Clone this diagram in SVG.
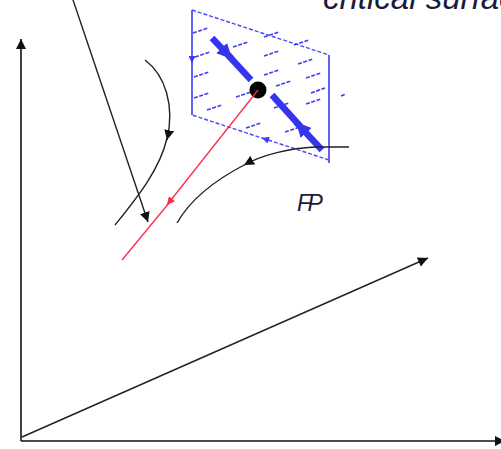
<svg xmlns="http://www.w3.org/2000/svg" width="501" height="449" viewBox="0 0 501 449">
<style>
.ax{fill:none;stroke:#111;stroke-width:1.6}
.th{fill:none;stroke:#222;stroke-width:1.4}
.red{fill:none;stroke:#ff2a4a;stroke-width:1.3}
.be{fill:none;stroke:#3b3bf5;stroke-width:1.6}
.bd{fill:none;stroke:#4a4af5;stroke-width:1.4;stroke-dasharray:4 2}
.hd{fill:none;stroke:#3f3ff2;stroke-width:1.7;stroke-dasharray:4 1.5}
.thick{fill:none;stroke:#3535ee;stroke-width:6.5}
.lbl{font-family:"Liberation Sans",Arial,sans-serif;font-style:italic;fill:#1a1a40}
</style>
<defs>
<marker id="ak" viewBox="0 0 10 10" refX="10" refY="5" markerWidth="10" markerHeight="10" markerUnits="userSpaceOnUse" orient="auto"><path d="M0,0 L10,5 L0,10 z" fill="#111"/></marker>
<marker id="akl" viewBox="0 0 10 10" refX="10" refY="5" markerWidth="12" markerHeight="10" markerUnits="userSpaceOnUse" orient="auto"><path d="M0,0 L10,5 L0,10 z" fill="#111"/></marker>
<marker id="ar" viewBox="0 0 10 10" refX="10" refY="5" markerWidth="9" markerHeight="8" markerUnits="userSpaceOnUse" orient="auto"><path d="M0,0 L10,5 L0,10 z" fill="#ff2a4a"/></marker>
<marker id="ab" viewBox="0 0 10 10" refX="10" refY="5" markerWidth="8" markerHeight="7" markerUnits="userSpaceOnUse" orient="auto"><path d="M0,0 L10,5 L0,10 z" fill="#3b3bf5"/></marker>
<marker id="abt" viewBox="0 0 10 10" refX="10" refY="5" markerWidth="15" markerHeight="15" markerUnits="userSpaceOnUse" orient="auto"><path d="M0,0 L10,5 L0,10 z" fill="#3535ee"/></marker>
</defs>

<g id="axes">
<path class="ax" d="M21,441 L21,39" marker-end="url(#akl)"/>
<path class="ax" d="M21,441 L505,441" marker-end="url(#akl)"/>
<path class="th" d="M22,437 L428,258" marker-end="url(#akl)"/>
</g>

<g id="critical-surface">
<path class="be" d="M192,10 L192,63" marker-end="url(#ab)"/>
<path class="be" d="M192,60 L192,115"/>
<path class="be" d="M329,55 L329,163"/>
<path class="bd" d="M192,10 L329,55"/>
<path class="bd" d="M329,160 L262,138" marker-end="url(#ab)"/>
<path class="bd" d="M265,139 L192,115"/>
<g id="hatch">
<path class="hd" d="M193,33 L208,28"/>
<path class="hd" d="M233,47 L248,42"/>
<path class="hd" d="M264,37 L279,32"/>
<path class="hd" d="M294,45 L309,40"/>
<path class="hd" d="M195,57 L210,52"/>
<path class="hd" d="M264,56 L279,51"/>
<path class="hd" d="M298,64 L313,59"/>
<path class="hd" d="M194,77 L209,72"/>
<path class="hd" d="M264,75 L279,70"/>
<path class="hd" d="M306,78 L321,73"/>
<path class="hd" d="M194,98 L209,93"/>
<path class="hd" d="M236,97 L251,92"/>
<path class="hd" d="M276,86 L291,81"/>
<path class="hd" d="M311,93 L325,88"/>
<path class="hd" d="M207,110 L222,105"/>
<path class="hd" d="M274,108 L289,103"/>
<path class="hd" d="M306,104 L321,99"/>
<path class="hd" d="M246,128 L261,123"/>
<path class="hd" d="M285,132 L300,127"/>
<path class="hd" d="M341,96 L346,94"/>
</g>
<path class="thick" d="M212,38 L232,59" marker-end="url(#abt)"/>
<path class="thick" d="M228,55 L251,80"/>
<path class="thick" d="M322,150 L296,122" marker-end="url(#abt)"/>
<path class="thick" d="M300,126 L272,95"/>
</g>

<g id="fixed-point">
<circle cx="258" cy="90" r="8.5" fill="#000"/>
</g>

<g id="connectors">
<path class="th" d="M70,-9 L148,222" marker-end="url(#ak)"/>
<path class="th" d="M145,60 C165,75 175,105 167,140" marker-end="url(#ak)"/>
<path class="th" d="M167,138 C160,170 135,200 115,225"/>
<path class="th" d="M349,147 L315,147 C290,148 262,155 244,165" marker-end="url(#ak)"/>
<path class="th" d="M246,164 C215,180 190,200 177,223"/>
<path class="red" d="M258,90 L167,205" marker-end="url(#ar)"/>
<path class="red" d="M169,203 L122,260"/>
</g>

<g id="labels">
<text class="lbl" x="323" y="9" font-size="33">critical surface</text>
<text class="lbl" x="297" y="211" font-size="23" letter-spacing="-3.5">FP</text>
</g>
</svg>
